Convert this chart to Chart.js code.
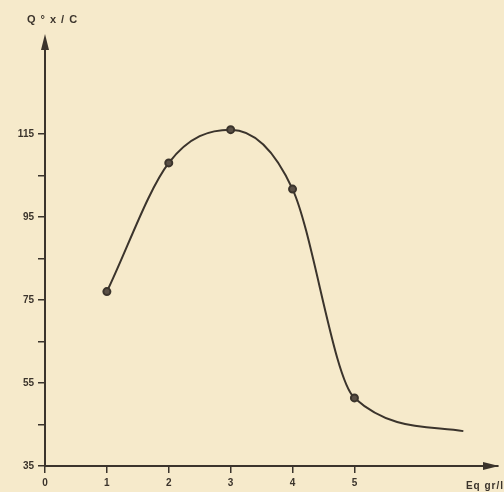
<!DOCTYPE html>
<html lang="fr">
<head>
<meta charset="UTF-8">
<title>Q/C en fonction de Eq gr/l</title>
<style>
    body, html {
        margin: 0;
        padding: 0;
        background: #f6eacb;
        overflow: hidden;
    }
    .chart-box {
        width: 504px;
        height: 492px;
        position: relative;
    }
</style>
</head>
<body>
<div class="chart-box">
    <canvas id="myChart"></canvas>
</div>

<script src="https://cdn.jsdelivr.net/npm/chart.js"></script>
<script>
// values
const concValues = [1, 2, 3, 4, 5, 6.76];          // Eq gr/l
const qValues = [77, 108, 116, 101.7, 51.4, 43.4];  // Q°x/C
const xTickLabels = ['0', '1', '2', '3', '4', '5'];
const yTickValues = [35, 45, 55, 65, 75, 85, 95, 105, 115];
const yTickLabels = ['35', '55', '75', '95', '115'];

const ink = '#3b342c';
const paper = '#f6eacb';

// arrows + axis titles, drawn on top of the chart
const arrowsPlugin = {
    id: 'arrows',
    beforeDraw(chart) {
        const c = chart.ctx;
        c.save();
        c.fillStyle = paper;
        c.fillRect(0, 0, chart.width, chart.height);
        c.restore();
    },
    afterDraw(chart) {
        const c = chart.ctx;
        const area = chart.chartArea;
        c.save();
        c.fillStyle = ink;
        // y arrow
        c.beginPath();
        c.moveTo(area.left, area.top - 6);
        c.lineTo(area.left - 4, area.top + 10);
        c.lineTo(area.left + 4, area.top + 10);
        c.closePath();
        c.fill();
        // x arrow
        c.beginPath();
        c.moveTo(area.right + 1, area.bottom);
        c.lineTo(area.right - 15, area.bottom - 4);
        c.lineTo(area.right - 15, area.bottom + 4);
        c.closePath();
        c.fill();

        c.font = 'bold 11px "Liberation Sans", sans-serif';
        c.textBaseline = 'middle';
        c.letterSpacing = '5px';
        c.textAlign = 'left';
        c.fillText('Q°x/C', 27, 20);
        c.font = 'bold 10px "Liberation Sans", sans-serif';
        c.letterSpacing = '1px';
        c.textAlign = 'right';
        c.fillText('Eq gr/l', 504, 486);
        c.restore();
    }
};

const ctx = document.getElementById('myChart').getContext('2d');
new Chart(ctx, {
    type: 'line',
    data: {
        datasets: [{
            data: concValues.map((x, i) => ({ x: x, y: qValues[i] })),
            borderColor: ink,
            borderWidth: 2,
            backgroundColor: ink,
            pointRadius: c => c.dataIndex === concValues.length - 1 ? 0 : 3.5,
            pointBorderColor: ink,
            pointBackgroundColor: '#5a5046',
            cubicInterpolationMode: 'monotone',
            fill: false
        }]
    },
    options: {
        responsive: true,
        maintainAspectRatio: false,
        animation: false,
        layout: { padding: { top: 40, right: 2, left: 0, bottom: 0 } },
        plugins: {
            legend: { display: false },
            tooltip: { enabled: false }
        },
        scales: {
            x: {
                type: 'linear',
                min: 0,
                max: 7.32,
                afterBuildTicks: s => { s.ticks = s.ticks.filter(t => t.value <= 5); },
                afterFit: s => { s.height = 26; },
                ticks: {
                    stepSize: 1,
                    padding: 4,
                    color: ink,
                    font: { family: 'Liberation Sans', size: 10, weight: 'bold' },
                    callback: v => xTickLabels[v]
                },
                grid: { drawOnChartArea: false, drawTicks: true, tickLength: 7, color: ink, lineWidth: 1.5 },
                border: { display: true, color: ink, width: 2 }
            },
            y: {
                type: 'linear',
                min: 35,
                max: 137.6,
                afterBuildTicks: s => { s.ticks = yTickValues.map(v => ({ value: v })); },
                afterFit: s => { s.width = 45; },
                ticks: {
                    padding: 4,
                    color: ink,
                    font: { family: 'Liberation Sans', size: 10, weight: 'bold' },
                    callback: v => {
                        const label = String(v);
                        return yTickLabels.includes(label) ? label : '';
                    }
                },
                grid: { drawOnChartArea: false, drawTicks: true, tickLength: 7, color: ink, lineWidth: 1.5 },
                border: { display: true, color: ink, width: 2 }
            }
        }
    },
    plugins: [arrowsPlugin]
});
</script>
</body>
</html>
